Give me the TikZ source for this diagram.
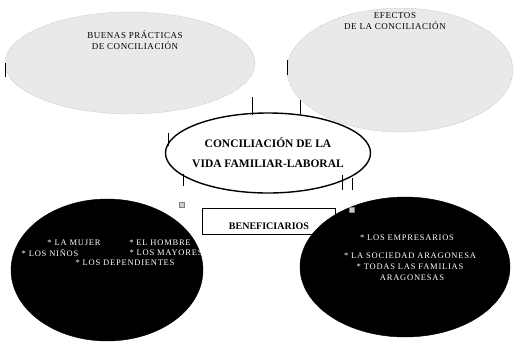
\documentclass[tikz,border=0pt]{standalone}
\usepackage{fontspec}
\setmainfont{Liberation Serif}
\usetikzlibrary{shapes.geometric, positioning}

\begin{document}
\begin{tikzpicture}[x=1pt, y=-1pt,
						grey/.style = {draw=gray!80, densely dotted, fill=gray!17, ellipse, inner sep=0pt},
						centre/.style = {draw, line width=1.4pt, fill=white, ellipse, inner sep=0pt},
						dark/.style = {draw, fill=black, ellipse, inner sep=0pt},
						box/.style = {draw, thick, fill=white, rectangle, inner sep=0pt},
						handle/.style = {draw=gray, fill=gray!40, rectangle, minimum size=5pt, inner sep=0pt},
						wtext/.style = {text=white, font=\fontsize{8.5}{9}\selectfont\addfontfeatures{LetterSpace=9}, inner sep=0pt},
						gtext/.style = {font=\fontsize{9}{11}\selectfont\addfontfeatures{LetterSpace=6}, align=center, inner sep=0pt},
						tick/.style = {thick}
					]
\useasboundingbox (0,0) rectangle (515,343);

% top ellipses
\node[grey, minimum width=250pt, minimum height=102pt] (practicas) at (130,63) {};
\node[grey, minimum width=226pt, minimum height=124pt] (efectos) at (400,70) {};
\node[gtext] (tpract) at (135,40) {BUENAS PR\'ACTICAS\\DE CONCILIACI\'ON};
\node[gtext] (tefect) at (395,21) {EFECTOS\\DE LA CONCILIACI\'ON};

% centre
\node[centre, minimum width=205pt, minimum height=80pt] (conc) at (268,153) {};
\node[font=\fontsize{11.5}{20}\selectfont\bfseries, align=center] (tconc) at (268,153) {CONCILIACI\'ON DE LA\\VIDA FAMILIAR-LABORAL};

% ticks
\coordinate (a1) at (5,63);    \coordinate (a2) at (5,77);
\coordinate (b1) at (252,97);  \coordinate (b2) at (252,115);
\coordinate (c1) at (168,133); \coordinate (c2) at (168,146);
\coordinate (d1) at (287,60);  \coordinate (d2) at (287,75);
\coordinate (e1) at (300,100); \coordinate (e2) at (300,114);
\coordinate (f1) at (183,174); \coordinate (f2) at (183,186);
\coordinate (g1) at (342,175); \coordinate (g2) at (342,190);
\coordinate (h1) at (352,178); \coordinate (h2) at (352,190);
\draw[tick] (a1) -- (a2);
\draw[tick] (b1) -- (b2);
\draw[tick] (c1) -- (c2);
\draw[tick] (d1) -- (d2);
\draw[tick] (e1) -- (e2);
\draw[tick] (f1) -- (f2);
\draw[tick] (g1) -- (g2);
\draw[tick] (h1) -- (h2);

% beneficiarios
\node[box, minimum width=133pt, minimum height=26pt] (benef) at (269,221) {};

\node[dark, minimum width=192pt, minimum height=142pt] (izq) at (107,270) {};
\node[dark, minimum width=210pt, minimum height=140pt] (der) at (405,267) {};
\node[handle] (hizq) at (182,205) {};
\node[handle] (hder) at (352,210) {};

\node[font=\fontsize{10}{12}\selectfont\bfseries] (tbenef) at (269,226) {BENEFICIARIOS};

% texts
\node[wtext] (mujer) at (74,243) {* LA MUJER};
\node[wtext] (hombre) at (160,243) {* EL HOMBRE};
\node[wtext] (ninos) at (50,253) {* LOS NI\~NOS};
\node[wtext] (mayores) at (166,253) {* LOS MAYORES};
\node[wtext] (depend) at (125,263) {* LOS DEPENDIENTES};

\node[wtext] (empres) at (407,238) {* LOS EMPRESARIOS};
\node[wtext] (socied) at (410,256) {* LA SOCIEDAD ARAGONESA};
\node[wtext] (famil) at (410,267) {* TODAS LAS FAMILIAS};
\node[wtext] (arag) at (412,278) {ARAGONESAS};
\end{tikzpicture}
\end{document}
